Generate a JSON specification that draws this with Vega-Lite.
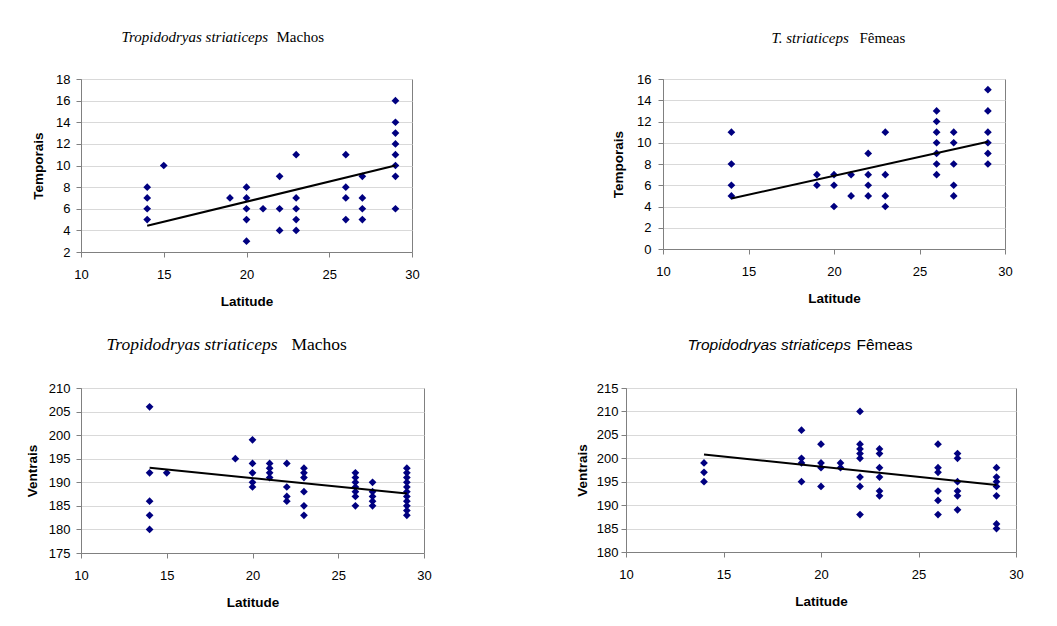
{
 "$schema": "https://vega.github.io/schema/vega-lite/v6.json",
 "padding": {"left": 24, "top": 28, "right": 5, "bottom": 5},
 "background": "white",
 "datasets": {
  "m_temp": [
   {"lat":14,"val":5},{"lat":14,"val":6},{"lat":14,"val":7},{"lat":14,"val":8},
   {"lat":15,"val":10},{"lat":19,"val":7},
   {"lat":20,"val":3},{"lat":20,"val":5},{"lat":20,"val":6},{"lat":20,"val":7},{"lat":20,"val":8},
   {"lat":21,"val":6},
   {"lat":22,"val":4},{"lat":22,"val":6},{"lat":22,"val":9},
   {"lat":23,"val":4},{"lat":23,"val":5},{"lat":23,"val":6},{"lat":23,"val":7},{"lat":23,"val":11},
   {"lat":26,"val":5},{"lat":26,"val":7},{"lat":26,"val":8},{"lat":26,"val":11},
   {"lat":27,"val":5},{"lat":27,"val":6},{"lat":27,"val":7},{"lat":27,"val":9},
   {"lat":29,"val":6},{"lat":29,"val":9},{"lat":29,"val":10},{"lat":29,"val":11},{"lat":29,"val":12},{"lat":29,"val":13},{"lat":29,"val":14},{"lat":29,"val":16}
  ],
  "m_temp_trend": [{"lat":14,"val":4.42},{"lat":29,"val":10.0}],
  "f_temp": [
   {"lat":14,"val":5},{"lat":14,"val":6},{"lat":14,"val":8},{"lat":14,"val":11},
   {"lat":19,"val":6},{"lat":19,"val":7},
   {"lat":20,"val":4},{"lat":20,"val":6},{"lat":20,"val":7},
   {"lat":21,"val":5},{"lat":21,"val":7},
   {"lat":22,"val":5},{"lat":22,"val":6},{"lat":22,"val":7},{"lat":22,"val":9},
   {"lat":23,"val":4},{"lat":23,"val":5},{"lat":23,"val":7},{"lat":23,"val":11},
   {"lat":26,"val":7},{"lat":26,"val":8},{"lat":26,"val":9},{"lat":26,"val":10},{"lat":26,"val":11},{"lat":26,"val":12},{"lat":26,"val":13},
   {"lat":27,"val":5},{"lat":27,"val":6},{"lat":27,"val":8},{"lat":27,"val":10},{"lat":27,"val":11},
   {"lat":29,"val":8},{"lat":29,"val":9},{"lat":29,"val":10},{"lat":29,"val":11},{"lat":29,"val":13},{"lat":29,"val":15}
  ],
  "f_temp_trend": [{"lat":14,"val":4.75},{"lat":29,"val":10.1}],
  "m_vent": [
   {"lat":14,"val":180},{"lat":14,"val":183},{"lat":14,"val":186},{"lat":14,"val":192},{"lat":14,"val":206},
   {"lat":15,"val":192},{"lat":19,"val":195},
   {"lat":20,"val":189},{"lat":20,"val":190},{"lat":20,"val":192},{"lat":20,"val":194},{"lat":20,"val":199},
   {"lat":21,"val":191},{"lat":21,"val":192},{"lat":21,"val":193},{"lat":21,"val":194},
   {"lat":22,"val":186},{"lat":22,"val":187},{"lat":22,"val":189},{"lat":22,"val":194},
   {"lat":23,"val":183},{"lat":23,"val":185},{"lat":23,"val":188},{"lat":23,"val":191},{"lat":23,"val":192},{"lat":23,"val":193},
   {"lat":26,"val":185},{"lat":26,"val":187},{"lat":26,"val":188},{"lat":26,"val":189},{"lat":26,"val":190},{"lat":26,"val":191},{"lat":26,"val":192},
   {"lat":27,"val":185},{"lat":27,"val":186},{"lat":27,"val":187},{"lat":27,"val":188},{"lat":27,"val":190},
   {"lat":29,"val":183},{"lat":29,"val":184},{"lat":29,"val":185},{"lat":29,"val":186},{"lat":29,"val":187},{"lat":29,"val":188},{"lat":29,"val":189},{"lat":29,"val":190},{"lat":29,"val":191},{"lat":29,"val":192},{"lat":29,"val":193}
  ],
  "m_vent_trend": [{"lat":14,"val":193.1},{"lat":29,"val":187.6}],
  "f_vent": [
   {"lat":14,"val":195},{"lat":14,"val":197},{"lat":14,"val":199},
   {"lat":19,"val":195},{"lat":19,"val":199},{"lat":19,"val":200},{"lat":19,"val":206},
   {"lat":20,"val":194},{"lat":20,"val":198},{"lat":20,"val":199},{"lat":20,"val":203},
   {"lat":21,"val":198},{"lat":21,"val":199},
   {"lat":22,"val":188},{"lat":22,"val":194},{"lat":22,"val":196},{"lat":22,"val":200},{"lat":22,"val":201},{"lat":22,"val":202},{"lat":22,"val":203},{"lat":22,"val":210},
   {"lat":23,"val":192},{"lat":23,"val":193},{"lat":23,"val":196},{"lat":23,"val":198},{"lat":23,"val":201},{"lat":23,"val":202},
   {"lat":26,"val":188},{"lat":26,"val":191},{"lat":26,"val":193},{"lat":26,"val":197},{"lat":26,"val":198},{"lat":26,"val":203},
   {"lat":27,"val":189},{"lat":27,"val":192},{"lat":27,"val":193},{"lat":27,"val":195},{"lat":27,"val":200},{"lat":27,"val":201},
   {"lat":29,"val":185},{"lat":29,"val":186},{"lat":29,"val":192},{"lat":29,"val":194},{"lat":29,"val":195},{"lat":29,"val":196},{"lat":29,"val":198}
  ],
  "f_vent_trend": [{"lat":14,"val":200.8},{"lat":29,"val":194.3}]
 },
 "config": {
  "view": {"stroke": "#808080", "strokeWidth": 1},
  "axis": {"labelFont": "Liberation Sans", "labelFontSize": 13, "labelColor": "#000", "titleFont": "Liberation Sans", "titleFontSize": 13.5, "titleFontWeight": "bold", "titleColor": "#000", "domainColor": "#808080", "tickColor": "#808080", "tickSize": 5, "labelFlush": false, "gridColor": "#d9d9d9"},
  "axisX": {"grid": false, "labelPadding": 11, "titlePadding": 13},
  "axisY": {"grid": true, "labelPadding": 6, "titlePadding": 10}
 },
 "spacing": 26,
 "vconcat": [
  {
   "spacing": 251,
   "bounds": "flush",
   "hconcat": [
    {
     "width": 331, "height": 173,
     "resolve": {"axis": {"x": "independent", "y": "independent"}},
     "layer": [
      {"data": {"name": "m_temp"}, "mark": {"type": "point", "shape": "diamond", "filled": true, "color": "#000080", "size": 60, "opacity": 1},
       "encoding": {
        "x": {"field": "lat", "type": "quantitative", "scale": {"domain": [10, 30], "nice": false, "zero": false}, "axis": {"title": "Latitude", "values": [10, 15, 20, 25, 30]}},
        "y": {"field": "val", "type": "quantitative", "scale": {"domain": [2, 18], "nice": false, "zero": false}, "axis": {"title": "Temporais", "values": [2, 4, 6, 8, 10, 12, 14, 16, 18], "labelPadding": 6, "titlePadding": 10}}
       }},
      {"data": {"name": "m_temp_trend"}, "mark": {"type": "line", "color": "#000", "strokeWidth": 2},
       "encoding": {
        "x": {"field": "lat", "type": "quantitative", "scale": {"domain": [10, 30], "nice": false, "zero": false}, "axis": {"orient": "top", "title": "Tropidodryas striaticeps", "domain": false, "ticks": false, "labels": false, "grid": false, "titleX": 40, "titleY": -38, "titleAlign": "left", "titleBaseline": "alphabetic", "titleAngle": 0, "titleFont": "Liberation Serif", "titleFontSize": 15, "titleFontStyle": "italic", "titleFontWeight": "normal"}},
        "y": {"field": "val", "type": "quantitative", "scale": {"domain": [2, 18], "nice": false, "zero": false}, "axis": {"orient": "left", "title": "Machos", "domain": false, "ticks": false, "labels": false, "grid": false, "minExtent": 56, "titleX": 195, "titleY": -38, "titleAlign": "left", "titleBaseline": "alphabetic", "titleAngle": 0, "titleFont": "Liberation Serif", "titleFontSize": 15, "titleFontStyle": "normal", "titleFontWeight": "normal"}}
       }}
     ]
    },
    {
     "width": 342, "height": 170,
     "resolve": {"axis": {"x": "independent", "y": "independent"}},
     "layer": [
      {"data": {"name": "f_temp"}, "mark": {"type": "point", "shape": "diamond", "filled": true, "color": "#000080", "size": 60, "opacity": 1},
       "encoding": {
        "x": {"field": "lat", "type": "quantitative", "scale": {"domain": [10, 30], "nice": false, "zero": false}, "axis": {"title": "Latitude", "values": [10, 15, 20, 25, 30]}},
        "y": {"field": "val", "type": "quantitative", "scale": {"domain": [0, 16], "nice": false, "zero": false}, "axis": {"title": "Temporais", "values": [0, 2, 4, 6, 8, 10, 12, 14, 16], "labelPadding": 7, "titlePadding": 11}}
       }},
      {"data": {"name": "f_temp_trend"}, "mark": {"type": "line", "color": "#000", "strokeWidth": 2},
       "encoding": {
        "x": {"field": "lat", "type": "quantitative", "scale": {"domain": [10, 30], "nice": false, "zero": false}, "axis": {"orient": "top", "title": "T. striaticeps", "domain": false, "ticks": false, "labels": false, "grid": false, "titleX": 108, "titleY": -36.7, "titleAlign": "left", "titleBaseline": "alphabetic", "titleAngle": 0, "titleFont": "Liberation Serif", "titleFontSize": 15, "titleFontStyle": "italic", "titleFontWeight": "normal"}},
        "y": {"field": "val", "type": "quantitative", "scale": {"domain": [0, 16], "nice": false, "zero": false}, "axis": {"orient": "left", "title": "Fêmeas", "domain": false, "ticks": false, "labels": false, "grid": false, "titleX": 196, "titleY": -36.7, "titleAlign": "left", "titleBaseline": "alphabetic", "titleAngle": 0, "titleFont": "Liberation Serif", "titleFontSize": 15, "titleFontStyle": "normal", "titleFontWeight": "normal"}}
       }}
     ]
    }
   ]
  },
  {
   "spacing": 202,
   "bounds": "flush",
   "hconcat": [
    {
     "width": 343, "height": 165,
     "resolve": {"axis": {"x": "independent", "y": "independent"}},
     "layer": [
      {"data": {"name": "m_vent"}, "mark": {"type": "point", "shape": "diamond", "filled": true, "color": "#000080", "size": 60, "opacity": 1},
       "encoding": {
        "x": {"field": "lat", "type": "quantitative", "scale": {"domain": [10, 30], "nice": false, "zero": false}, "axis": {"title": "Latitude", "values": [10, 15, 20, 25, 30]}},
        "y": {"field": "val", "type": "quantitative", "scale": {"domain": [175, 210], "nice": false, "zero": false}, "axis": {"title": "Ventrais", "values": [175, 180, 185, 190, 195, 200, 205, 210], "labelPadding": 6, "titlePadding": 9}}
       }},
      {"data": {"name": "m_vent_trend"}, "mark": {"type": "line", "color": "#000", "strokeWidth": 2},
       "encoding": {
        "x": {"field": "lat", "type": "quantitative", "scale": {"domain": [10, 30], "nice": false, "zero": false}, "axis": {"orient": "top", "title": "Tropidodryas striaticeps", "domain": false, "ticks": false, "labels": false, "grid": false, "titleX": 25, "titleY": -38.7, "titleAlign": "left", "titleBaseline": "alphabetic", "titleAngle": 0, "titleFont": "Liberation Serif", "titleFontSize": 17.5, "titleFontStyle": "italic", "titleFontWeight": "normal"}},
        "y": {"field": "val", "type": "quantitative", "scale": {"domain": [175, 210], "nice": false, "zero": false}, "axis": {"orient": "left", "title": "Machos", "domain": false, "ticks": false, "labels": false, "grid": false, "titleX": 210, "titleY": -38.7, "titleAlign": "left", "titleBaseline": "alphabetic", "titleAngle": 0, "titleFont": "Liberation Serif", "titleFontSize": 17.5, "titleFontStyle": "normal", "titleFontWeight": "normal"}}
       }}
     ]
    },
    {
     "width": 390, "height": 164,
     "resolve": {"axis": {"x": "independent", "y": "independent"}},
     "layer": [
      {"data": {"name": "f_vent"}, "mark": {"type": "point", "shape": "diamond", "filled": true, "color": "#000080", "size": 60, "opacity": 1},
       "encoding": {
        "x": {"field": "lat", "type": "quantitative", "scale": {"domain": [10, 30], "nice": false, "zero": false}, "axis": {"title": "Latitude", "values": [10, 15, 20, 25, 30]}},
        "y": {"field": "val", "type": "quantitative", "scale": {"domain": [180, 215], "nice": false, "zero": false}, "axis": {"title": "Ventrais", "values": [180, 185, 190, 195, 200, 205, 210, 215], "labelPadding": 3, "titlePadding": 7}}
       }},
      {"data": {"name": "f_vent_trend"}, "mark": {"type": "line", "color": "#000", "strokeWidth": 2},
       "encoding": {
        "x": {"field": "lat", "type": "quantitative", "scale": {"domain": [10, 30], "nice": false, "zero": false}, "axis": {"orient": "top", "title": "Tropidodryas striaticeps", "domain": false, "ticks": false, "labels": false, "grid": false, "titleX": 61, "titleY": -38.7, "titleAlign": "left", "titleBaseline": "alphabetic", "titleAngle": 0, "titleFont": "Liberation Sans", "titleFontSize": 15.5, "titleFontStyle": "italic", "titleFontWeight": "normal"}},
        "y": {"field": "val", "type": "quantitative", "scale": {"domain": [180, 215], "nice": false, "zero": false}, "axis": {"orient": "left", "title": "Fêmeas", "domain": false, "ticks": false, "labels": false, "grid": false, "titleX": 230, "titleY": -38.7, "titleAlign": "left", "titleBaseline": "alphabetic", "titleAngle": 0, "titleFont": "Liberation Sans", "titleFontSize": 15.5, "titleFontStyle": "normal", "titleFontWeight": "normal"}}
       }}
     ]
    }
   ]
  }
 ]
}
